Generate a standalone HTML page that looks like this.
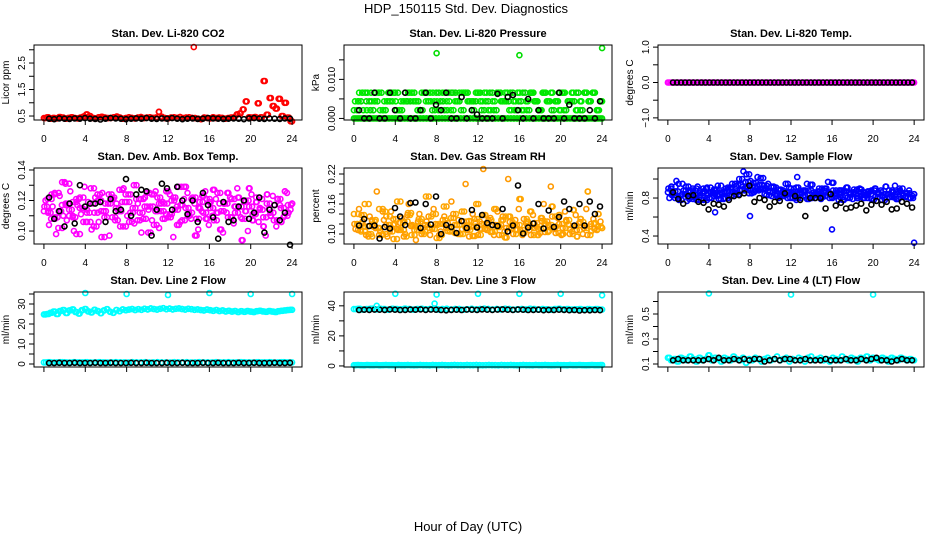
<!DOCTYPE html>
<html><head><meta charset="utf-8"><style>
html,body{margin:0;padding:0;background:#fff;}
svg{display:block;font-family:"Liberation Sans",Arial,sans-serif;}
</style></head><body>
<svg id="chart" width="936" height="540" viewBox="0 0 936 540" xmlns="http://www.w3.org/2000/svg">
<text x="466" y="13" text-anchor="middle" font-size="13">HDP_150115  Std. Dev. Diagnostics</text>
<text x="468" y="531" text-anchor="middle" font-size="13">Hour of Day (UTC)</text>
</svg>
<script>
// ---- data ----
const xTicks = [0,4,8,12,16,20,24];
const co2Red = [0.42,0.45,0.40,0.43,0.41,0.46,0.44,0.40,0.43,0.45,0.42,0.41,0.44,0.48,0.56,0.50,0.43,0.41,0.45,0.47,0.44,0.42,0.43,0.45,0.48,0.44,0.40,0.42,0.45,0.43,0.41,0.44,0.46,0.42,0.44,0.45,0.43,0.44,0.66,0.47,0.42,0.41,0.44,0.45,0.43,0.46,0.42,0.44,0.45,0.43,0.42,0.40,0.38,0.44,0.43,0.41,0.45,0.42,0.44,0.43,0.40,0.42,0.44,0.45,0.56,0.60,0.75,1.05,0.45,0.44,0.46,0.98,0.45,1.82,0.55,1.18,0.88,0.78,1.15,0.50,1.00,0.44,0.30];
const co2Out = [3.10];
const co2OutHours = [14.5];
const co2Black = [0.40,0.38,0.41,0.40,0.39,0.41,0.40,0.42,0.40,0.39,0.37,0.40,0.42,0.41,0.40,0.38,0.40,0.41,0.40,0.42,0.40,0.39,0.41,0.40,0.42,0.40,0.38,0.40,0.41,0.39,0.40,0.42,0.41,0.40,0.39,0.40,0.41,0.40,0.38,0.41,0.42,0.40,0.39,0.41,0.40,0.39,0.41,0.40];

const presGreenA = [0.0044,0.0066,0.0021,0.0066,0.0044,0.0066,0.0021,0.0044,0.0066,0.0044,0.0021,0.0044,0.0066,0.0066,0.0044,0.0021,0.0066,0.0044,0.0066,0.0044,0.0021,0.0066,0.0044,0.0021,0.0044,0.0066,0.0066,0.0044,0.0021,0.0066,0.0044,0.0066,0.0021,0.0044,0.0066,0.0044,0.0066,0.0021,0.0044,0.0066,0.0021,0.0044,0.0066,0.0044,0.0021,0.0066,0.0044,0.0066,0.0044,0.0021,0.0066,0.0044,0.0066,0.0021,0.0044,0.0066,0.0044,0.0066,0.0021,0.0044];
const presGreenB = [0.0021,0.0044,0.0066,0.0044,0.0021,0.0044,0.0066,0.0021,0.0044,0.0066,0.0066,0.0021,0.0044,0.0044,0.0066,0.0044,0.0021,0.0066,0.0044,0.0021,0.0066,0.0044,0.0021,0.0066,0.0066,0.0044,0.0021,0.0066,0.0044,0.0044,0.0066,0.0021,0.0044,0.0066,0.0021,0.0066,0.0044,0.0044,0.0066,0.0021,0.0044,0.0066,0.0021,0.0066,0.0044,0.0021,0.0066,0.0044,0.0021,0.0044,0.0066,0.0021,0.0044,0.0044,0.0066,0.0021,0.0066,0.0044,0.0066,0.0021];
const presGreenZero = [0,0,0,0,0,0,0,0,0,0,0,0,0,0,0,0,0,0,0,0,0,0,0,0,0,0,0,0,0,0,0,0,0,0,0,0,0,0,0,0,0,0,0,0,0,0,0,0,0,0,0,0,0,0,0,0,0,0,0,0,0,0,0,0,0,0,0,0,0,0,0,0,0,0,0,0,0,0,0,0];
const presOut = [0.0167,0.0162,0.0180];
const presOutHours = [8,16,24];
const presBlack = [0.0021,0,0,0.0066,0,0,0.0066,0.0021,0,0.0066,0,0,0.0021,0.0066,0,0.0035,0.0021,0.0066,0,0,0.0055,0,0.0021,0.0010,0,0,0,0.0063,0,0.0055,0.0060,0.0021,0,0.0050,0,0.0021,0,0,0,0.0066,0,0.0035,0,0,0,0.0021,0,0.0044];

const tempMag = [0,0,0,0,0,0,0,0,0,0,0,0,0,0,0,0,0,0,0,0,0,0,0,0,0,0,0,0,0,0,0,0,0,0,0,0,0,0,0,0,0,0,0,0,0,0,0,0,0,0,0,0,0,0,0,0,0,0,0,0,0,0,0,0,0,0,0,0,0,0,0,0,0,0,0,0,0,0,0,0];
const tempBlack = [0,0,0,0,0,0,0,0,0,0,0,0,0,0,0,0,0,0,0,0,0,0,0,0,0,0,0,0,0,0,0,0,0,0,0,0,0,0,0,0,0,0,0,0,0,0,0,0,0,0,0,0,0,0,0,0,0,0,0,0];

const ambMagA = [0.113,0.121,0.108,0.125,0.102,0.117,0.131,0.110,0.119,0.098,0.122,0.114,0.106,0.128,0.112,0.120,0.096,0.118,0.124,0.109,0.115,0.127,0.103,0.119,0.112,0.130,0.107,0.121,0.116,0.099,0.124,0.113,0.118,0.108,0.126,0.111,0.122,0.104,0.117,0.129,0.110,0.121,0.097,0.115,0.123,0.108,0.119,0.127,0.112,0.101,0.118,0.125,0.109,0.116,0.122,0.094,0.113,0.128,0.107,0.119,0.115,0.103,0.124,0.110,0.117,0.121,0.106,0.126,0.112,0.118];
const ambMagB = [0.120,0.104,0.116,0.098,0.123,0.110,0.107,0.126,0.100,0.117,0.111,0.129,0.119,0.101,0.122,0.106,0.125,0.113,0.097,0.121,0.118,0.103,0.128,0.110,0.124,0.105,0.118,0.099,0.122,0.114,0.107,0.126,0.102,0.119,0.111,0.124,0.096,0.116,0.106,0.121,0.125,0.108,0.118,0.101,0.113,0.126,0.104,0.110,0.121,0.118,0.099,0.112,0.122,0.105,0.128,0.109,0.119,0.100,0.124,0.112,0.106,0.121,0.097,0.115,0.123,0.103,0.117,0.109,0.125,0.114];
const ambMagC = [0.116,0.112,0.124,0.109,0.113,0.132,0.118,0.114,0.109,0.121,0.115,0.106,0.112,0.118,0.103,0.124,0.113,0.109,0.118,0.122,0.107,0.113,0.119,0.124,0.106,0.115,0.121,0.112,0.108,0.125,0.116,0.104,0.122,0.113,0.118,0.109,0.120,0.114,0.129,0.107,0.115,0.112,0.122,0.108,0.119,0.112,0.121,0.115,0.107,0.125,0.113,0.118,0.109,0.121,0.112,0.116,0.108,0.120,0.116,0.111,0.122,0.114,0.109,0.118,0.112,0.107,0.121,0.115,0.110,0.117];
const ambBlack = [0.122,0.108,0.113,0.103,0.118,0.105,0.130,0.116,0.118,0.118,0.119,0.106,0.121,0.113,0.114,0.134,0.110,0.124,0.127,0.126,0.097,0.114,0.131,0.128,0.114,0.129,0.120,0.111,0.120,0.106,0.125,0.117,0.109,0.095,0.119,0.106,0.107,0.116,0.120,0.108,0.112,0.122,0.099,0.114,0.117,0.107,0.112,0.091];

const rhOrgA = [0.140,0.120,0.105,0.160,0.095,0.128,0.112,0.150,0.100,0.135,0.118,0.090,0.165,0.108,0.125,0.142,0.098,0.115,0.130,0.105,0.175,0.112,0.140,0.092,0.120,0.155,0.106,0.132,0.118,0.100,0.145,0.113,0.126,0.096,0.160,0.110,0.138,0.122,0.104,0.150,0.114,0.128,0.093,0.135,0.118,0.108,0.170,0.102,0.125,0.145,0.112,0.098,0.132,0.120,0.106,0.155,0.115,0.138,0.100,0.125,0.110,0.148,0.095,0.130,0.117,0.185,0.106,0.122,0.140,0.112];
const rhOrgB = [0.110,0.150,0.125,0.098,0.135,0.115,0.185,0.105,0.128,0.095,0.145,0.120,0.108,0.132,0.100,0.160,0.118,0.088,0.140,0.112,0.125,0.098,0.150,0.118,0.105,0.135,0.122,0.165,0.102,0.128,0.110,0.200,0.095,0.140,0.115,0.125,0.230,0.108,0.132,0.098,0.145,0.118,0.105,0.210,0.112,0.128,0.150,0.098,0.122,0.108,0.138,0.115,0.102,0.160,0.125,0.195,0.110,0.132,0.098,0.145,0.118,0.105,0.138,0.122,0.100,0.150,0.115,0.130,0.108,0.125];
const rhOrgC = [0.120,0.108,0.138,0.115,0.100,0.125,0.112,0.098,0.145,0.118,0.105,0.130,0.110,0.122,0.095,0.138,0.116,0.108,0.125,0.100,0.118,0.135,0.110,0.120,0.098,0.128,0.112,0.105,0.140,0.118,0.100,0.125,0.108,0.115,0.130,0.098,0.120,0.110,0.128,0.105,0.118,0.098,0.135,0.112,0.124,0.100,0.118,0.108,0.130,0.115,0.098,0.122,0.110,0.126,0.104,0.118,0.135,0.102,0.120,0.112,0.128,0.100,0.116,0.108,0.124,0.112,0.098,0.120,0.110,0.115];
const rhBlack = [0.117,0.130,0.116,0.117,0.091,0.114,0.111,0.152,0.135,0.118,0.162,0.163,0.112,0.160,0.119,0.175,0.100,0.118,0.114,0.102,0.126,0.112,0.148,0.113,0.138,0.122,0.118,0.116,0.150,0.105,0.117,0.197,0.101,0.113,0.121,0.160,0.111,0.147,0.114,0.134,0.165,0.150,0.117,0.160,0.117,0.165,0.140,0.155];

const flowBlueA = [0.86,0.92,0.80,0.95,0.84,0.88,0.79,0.90,0.83,0.87,0.78,0.91,0.85,0.82,0.93,0.86,0.80,0.89,0.95,0.84,1.00,0.92,1.05,0.88,0.96,0.90,1.01,0.93,0.87,0.92,0.84,0.89,0.82,0.95,0.86,0.80,0.91,0.85,0.88,0.79,0.94,0.83,0.87,0.81,0.90,0.85,0.96,0.82,0.88,0.78,0.91,0.84,0.86,0.80,0.89,0.83,0.87,0.79,0.90,0.84,0.82,0.92,0.81,0.86,0.79,0.88,0.83,0.85,0.80,0.84];
const flowBlueB = [0.80,0.85,0.98,0.82,0.88,0.77,0.86,0.81,0.92,0.78,0.87,0.83,0.80,0.88,0.79,0.85,0.90,0.82,0.86,0.93,0.88,1.08,0.91,0.98,0.86,1.02,0.89,0.84,0.95,0.82,0.88,0.80,0.86,0.83,0.91,0.85,0.78,0.88,0.82,0.95,0.80,0.86,0.83,0.79,0.88,0.97,0.81,0.85,0.78,0.88,0.82,0.86,0.79,0.84,0.90,0.80,0.83,0.87,0.78,0.85,0.88,0.80,0.84,0.82,0.93,0.79,0.85,0.81,0.88,0.82];
const flowBlueC = [0.90,0.83,0.87,0.78,0.84,0.92,0.81,0.88,0.78,0.85,0.90,0.80,0.86,0.89,0.83,0.79,0.87,0.91,0.82,0.86,0.94,0.88,0.97,0.85,0.92,0.88,0.94,0.90,0.83,0.86,0.91,0.82,0.88,0.86,0.80,0.90,0.84,0.80,0.86,0.83,0.88,0.80,0.84,0.90,0.82,0.86,0.80,0.88,0.84,0.81,0.87,0.80,0.85,0.89,0.82,0.86,0.80,0.84,0.88,0.81,0.86,0.78,0.84,0.88,0.81,0.86,0.90,0.82,0.85,0.80];
const flowOut = [0.65,0.61,1.02,0.47,0.33];
const flowOutHours = [4.6,8.0,12.6,16.0,24.0];
const flowBlack = [0.86,0.79,0.74,0.82,0.83,0.76,0.75,0.68,0.74,0.73,0.71,0.78,0.82,0.83,0.85,0.93,0.76,0.80,0.78,0.71,0.76,0.77,0.85,0.72,0.82,0.78,0.61,0.80,0.80,0.80,0.69,0.84,0.72,0.75,0.69,0.70,0.72,0.74,0.67,0.73,0.77,0.73,0.76,0.68,0.69,0.76,0.74,0.70];

const l2Upper = [24.8,25.0,25.6,26.2,25.0,26.5,27.0,25.5,26.8,27.3,26.0,25.2,26.9,27.5,26.3,25.8,27.1,26.5,25.4,26.8,27.4,26.1,25.6,27.0,26.4,27.3,26.9,27.2,27.5,27.0,27.4,27.1,27.6,27.3,27.8,27.5,27.2,27.6,27.9,27.4,27.7,27.3,27.6,27.8,27.5,27.2,27.6,27.4,27.1,27.3,27.0,26.8,27.2,26.9,26.6,27.0,26.5,26.8,26.3,26.6,26.2,26.5,26.0,26.4,26.1,26.5,26.2,26.0,26.4,26.6,26.3,26.1,26.5,26.2,26.0,26.4,26.6,26.8,27.0,27.1];
const l2Lower = [0.8,0.9,0.7,0.8,0.9,0.8,0.7,0.9,0.8,0.8,0.9,0.7,0.8,0.9,0.8,0.7,0.8,0.9,0.8,0.8,0.7,0.9,0.8,0.8,0.9,0.7,0.8,0.9,0.8,0.8,0.7,0.9,0.8,0.8,0.9,0.7,0.8,0.9,0.8,0.8,0.7,0.9,0.8,0.8,0.9,0.7,0.8,0.9,0.8,0.8,0.7,0.9,0.8,0.8,0.9,0.7,0.8,0.9,0.8,0.8];
const l2Out = [35.5,35.0,34.5,35.5,35.0,35.0];
const l2OutHours = [4,8,12,16,20,24];
const l2Black = [0.5,0.5,0.6,0.5,0.5,0.6,0.5,0.5,0.5,0.6,0.5,0.5,0.6,0.5,0.5,0.5,0.6,0.5,0.5,0.6,0.5,0.5,0.5,0.6,0.5,0.5,0.6,0.5,0.5,0.5,0.6,0.5,0.5,0.6,0.5,0.5,0.5,0.6,0.5,0.5,0.6,0.5,0.5,0.5,0.6,0.5,0.5,0.6];

const l3Upper = [37.8,38.0,37.5,37.9,38.1,37.6,38.0,37.8,37.4,38.0,37.9,37.6,38.1,37.8,37.5,37.9,38.0,37.7,37.9,38.1,37.6,37.8,38.0,37.5,37.9,37.8,37.4,37.7,38.0,37.6,37.9,38.1,37.8,37.5,37.9,37.6,38.0,37.8,37.4,37.7,37.9,37.6,38.0,37.8,37.5,37.9,37.7,37.4,37.8,38.0,37.6,37.9,37.5,37.7,37.9,37.4,37.8,37.6,37.9,37.5];
const l3Lower = [0.5,0.6,0.5,0.4,0.6,0.5,0.5,0.6,0.4,0.5,0.6,0.5,0.5,0.4,0.6,0.5,0.5,0.6,0.5,0.4,0.5,0.6,0.5,0.5,0.4,0.6,0.5,0.5,0.6,0.5,0.4,0.5,0.6,0.5,0.5,0.4,0.6,0.5,0.5,0.6,0.5,0.4,0.5,0.6,0.5,0.5,0.4,0.6,0.5,0.5,0.6,0.5,0.4,0.5,0.6,0.5,0.5,0.4,0.6,0.5,0.5,0.6,0.5,0.4,0.5,0.6,0.5,0.5,0.4,0.6,0.5,0.5,0.6,0.5,0.4,0.5,0.6,0.5,0.5,0.6];
const l3Out = [40.0,48.0,41.5,47.5,48.0,48.0,48.0,47.0];
const l3OutHours = [2.2,4.0,7.8,8.0,12.0,16.0,20.0,24.0];
const l3Black = [37.2,37.4,37.3,37.5,37.4,37.3,37.6,37.4,37.2,37.3,37.5,37.4,37.6,37.3,37.5,37.4,37.2,37.0,37.3,37.4,37.2,37.5,37.4,37.3,37.6,37.4,37.3,37.5,37.6,37.4,37.3,37.5,37.4,37.2,37.3,37.4,37.1,37.3,37.2,37.4,37.3,37.1,37.2,36.9,37.1,37.0,37.2,37.1];

const l4Cyan = [0.15,0.13,0.14,0.12,0.15,0.14,0.13,0.16,0.14,0.12,0.15,0.13,0.14,0.17,0.13,0.15,0.14,0.12,0.15,0.14,0.13,0.16,0.14,0.13,0.15,0.11,0.14,0.13,0.15,0.14,0.12,0.14,0.15,0.13,0.14,0.16,0.13,0.14,0.15,0.12,0.14,0.13,0.15,0.14,0.12,0.15,0.16,0.13,0.14,0.15,0.13,0.14,0.12,0.15,0.14,0.13,0.16,0.14,0.13,0.15,0.14,0.12,0.15,0.14,0.16,0.13,0.15,0.14,0.13,0.15,0.14,0.12,0.15,0.14,0.13,0.15,0.14,0.13,0.14,0.13];
const l4Out = [0.665,0.655,0.655];
const l4OutHours = [4,12,20];
const l4Black = [0.13,0.14,0.13,0.13,0.13,0.13,0.13,0.14,0.13,0.15,0.13,0.13,0.14,0.13,0.14,0.13,0.14,0.14,0.12,0.13,0.14,0.13,0.14,0.14,0.13,0.13,0.14,0.13,0.13,0.13,0.14,0.13,0.13,0.13,0.14,0.13,0.13,0.14,0.13,0.14,0.15,0.13,0.13,0.12,0.13,0.14,0.13,0.13];

// ---- layout ----
const NS = 'http://www.w3.org/2000/svg';
const svg = document.getElementById('chart');
const COLS = [[34,302],[344,612],[658,924]];
const ROWS = [[45,120],[168,244],[292,367]];

function el(tag, attrs, parent){
  const e = document.createElementNS(NS, tag);
  for (const k in attrs) e.setAttribute(k, attrs[k]);
  (parent||svg).appendChild(e);
  return e;
}

const K = '#000';
const panels = [
 {c:0,r:0,title:'Stan. Dev. Li-820 CO2',ylab:'Licor ppm',ymin:0.35,ymax:3.18,ticks:[0.5,1.0,1.5,2.0,2.5,3.0],labels:['0.5','','1.5','','2.5',''],
  series:[{v:co2Red,col:'#ff0000',x0:0,x1:24},{v:co2Red,col:'#ff0000',x0:0.15,x1:23.85},{v:co2Black,col:K,x0:0.5,x1:23.8},{v:co2Out,h:co2OutHours,col:'#ff0000'}]},
 {c:1,r:0,title:'Stan. Dev. Li-820 Pressure',ylab:'kPa',ymin:-0.0004,ymax:0.0188,ticks:[0,0.005,0.010,0.015],labels:['0.000','','0.010',''],
  series:[{v:presGreenZero,col:'#00dd00',x0:0,x1:24},{v:presGreenZero,col:'#00dd00',x0:0.15,x1:23.85},{v:presGreenA,col:'#00ee00',x0:0.1,x1:23.9},{v:presGreenB,col:'#00dd00',x0:0.3,x1:23.7},{v:presGreenB,col:'#00dd00',x0:0.0,x1:23.5},{v:presGreenA,col:'#00ee00',x0:0.45,x1:24},{v:presBlack,col:K,x0:0.5,x1:23.8},{v:presOut,h:presOutHours,col:'#00dd00'}]},
 {c:2,r:0,title:'Stan. Dev. Li-820 Temp.',ylab:'degrees C',ymin:-1.06,ymax:1.06,ticks:[-1,-0.5,0,0.5,1],labels:['\u22121.0','','0.0','','1.0'],
  series:[{v:tempMag,col:'#ff00ff',x0:0,x1:24},{v:tempMag,col:'#ff00ff',x0:0.15,x1:23.85},{v:tempBlack,col:K,x0:0.5,x1:23.8}]},
 {c:0,r:1,title:'Stan. Dev. Amb. Box Temp.',ylab:'degrees C',ymin:0.0915,ymax:0.1413,ticks:[0.10,0.11,0.12,0.13,0.14],labels:['0.10','','0.12','','0.14'],
  series:[{v:ambMagA,col:'#ff00ff',x0:0,x1:24},{v:ambMagB,col:'#ff00ff',x0:0.15,x1:23.85},{v:ambMagC,col:'#ff00ff',x0:0.3,x1:23.9},{v:ambMagC,col:'#ff00ff',x0:0.05,x1:23.6},{v:ambMagA,col:'#ff00ff',x0:0.4,x1:24},{v:ambBlack,col:K,x0:0.5,x1:23.8}]},
 {c:1,r:1,title:'Stan. Dev. Gas Stream RH',ylab:'percent',ymin:0.08,ymax:0.232,ticks:[0.10,0.12,0.14,0.16,0.18,0.20,0.22],labels:['0.10','','','0.16','','','0.22'],
  series:[{v:rhOrgA,col:'#ffa500',x0:0,x1:24},{v:rhOrgB,col:'#ff9900',x0:0.15,x1:23.85},{v:rhOrgC,col:'#ffb000',x0:0.3,x1:23.9},{v:rhOrgC,col:'#ff9900',x0:0.05,x1:23.6},{v:rhOrgA,col:'#ffa500',x0:0.4,x1:24},{v:rhBlack,col:K,x0:0.5,x1:23.8}]},
 {c:2,r:1,title:'Stan. Dev. Sample Flow',ylab:'ml/min',ymin:0.316,ymax:1.116,ticks:[0.4,0.6,0.8,1.0],labels:['0.4','','0.8',''],
  series:[{v:flowBlueA,col:'#0000ff',x0:0,x1:24},{v:flowBlueB,col:'#0000ff',x0:0.15,x1:23.85},{v:flowBlueC,col:'#0000ff',x0:0.3,x1:23.9},{v:flowBlueC,col:'#0000ff',x0:0.05,x1:23.6},{v:flowBlueA,col:'#0000ff',x0:0.4,x1:24},{v:flowBlack,col:K,x0:0.5,x1:23.8},{v:flowOut,h:flowOutHours,col:'#0000ff'}]},
 {c:0,r:2,title:'Stan. Dev. Line 2 Flow',ylab:'ml/min',ymin:-1.5,ymax:36,ticks:[0,5,10,15,20,25,30,35],labels:['0','','10','','20','','30',''],
  series:[{v:l2Upper,col:'#00ffff',x0:0,x1:24},{v:l2Upper,col:'#00ffff',x0:0.15,x1:23.85},{v:l2Lower,col:'#00ffff',x0:0,x1:24},{v:l2Lower,col:'#00ffff',x0:0.2,x1:23.8},{v:l2Black,col:K,x0:0.5,x1:23.8},{v:l2Out,h:l2OutHours,col:'#00ffff'}]},
 {c:1,r:2,title:'Stan. Dev. Line 3 Flow',ylab:'ml/min',ymin:-0.7,ymax:49.2,ticks:[0,10,20,30,40],labels:['0','','20','','40'],
  series:[{v:l3Upper,col:'#00ffff',x0:0,x1:24},{v:l3Upper,col:'#00ffff',x0:0.2,x1:23.8},{v:l3Lower,col:'#00ffff',x0:0,x1:24},{v:l3Lower,col:'#00ffff',x0:0.15,x1:23.85},{v:l3Black,col:K,x0:0.5,x1:23.8},{v:l3Out,h:l3OutHours,col:'#00ffff'}]},
 {c:2,r:2,title:'Stan. Dev. Line 4 (LT) Flow',ylab:'ml/min',ymin:0.076,ymax:0.676,ticks:[0.1,0.2,0.3,0.4,0.5,0.6],labels:['0.1','','0.3','','0.5',''],
  series:[{v:l4Cyan,col:'#00ffff',x0:0,x1:24},{v:l4Cyan,col:'#00ffff',x0:0.15,x1:23.85},{v:l4Black,col:K,x0:0.5,x1:23.8},{v:l4Out,h:l4OutHours,col:'#00ffff'}]}
];

panels.forEach((p, pi) => {
  const [L,R] = COLS[p.c], [T,B] = ROWS[p.r];
  const xs = h => L + (h + 0.96) / 25.92 * (R - L);
  const ys = v => B - (v - p.ymin) / (p.ymax - p.ymin) * (B - T);
  const g = el('g', {});
  
  

  const t = el('text', {x:(L+R)/2, y:T-8, 'text-anchor':'middle', 'font-size':'11', 'font-weight':'bold'}, g);
  t.textContent = p.title;
  
  

  const yl = el('text', {x:0, y:0, 'text-anchor':'middle', 'font-size':'10', transform:`translate(${L-25},${(T+B)/2}) rotate(-90)`}, g);
  yl.textContent = p.ylab;
  
  

  p.series.forEach(s => {
    const sg = el('g', {fill:'none', stroke:s.col, 'stroke-width':'1.6'}, g);
    
    
    s.v.forEach((v, i) => {
      const h = s.h ? s.h[i] : s.x0 + i * (s.x1 - s.x0) / (s.v.length - 1);
      const c = el('circle', {cx:xs(h).toFixed(1), cy:ys(v).toFixed(1), r:'2.5'}, sg);
      
      
    });
  });

  const box = el('rect', {x:L, y:T, width:R-L, height:B-T, fill:'none', stroke:'#000', 'stroke-width':'1'}, g);
  
  

  const xa = el('g', {stroke:'#000', 'stroke-width':'1'}, g);
  
  
  el('line', {x1:xs(xTicks[0]), x2:xs(xTicks[xTicks.length-1]), y1:B, y2:B}, xa);
  xTicks.forEach(v => {
    el('line', {x1:xs(v), x2:xs(v), y1:B, y2:B+5}, xa);
    if (p.r < 2) {
      const tl = el('text', {x:xs(v), y:B+22, 'text-anchor':'middle', 'font-size':'10', stroke:'none', fill:'#000'}, xa);
      tl.textContent = v;
      
      
    }
  });
  const ya = el('g', {stroke:'#000', 'stroke-width':'1'}, g);
  
  
  el('line', {x1:L, x2:L, y1:ys(p.ticks[0]), y2:ys(p.ticks[p.ticks.length-1])}, ya);
  p.ticks.forEach((v, i) => {
    el('line', {x1:L-5, x2:L, y1:ys(v), y2:ys(v)}, ya);
    if (p.labels[i]) {
      const tl = el('text', {x:0, y:0, 'text-anchor':'middle', 'font-size':'10', stroke:'none', fill:'#000', transform:`translate(${L-9},${ys(v)}) rotate(-90)`}, ya);
      tl.textContent = p.labels[i];
      
      
    }
  });
});
</script>
</body></html>
